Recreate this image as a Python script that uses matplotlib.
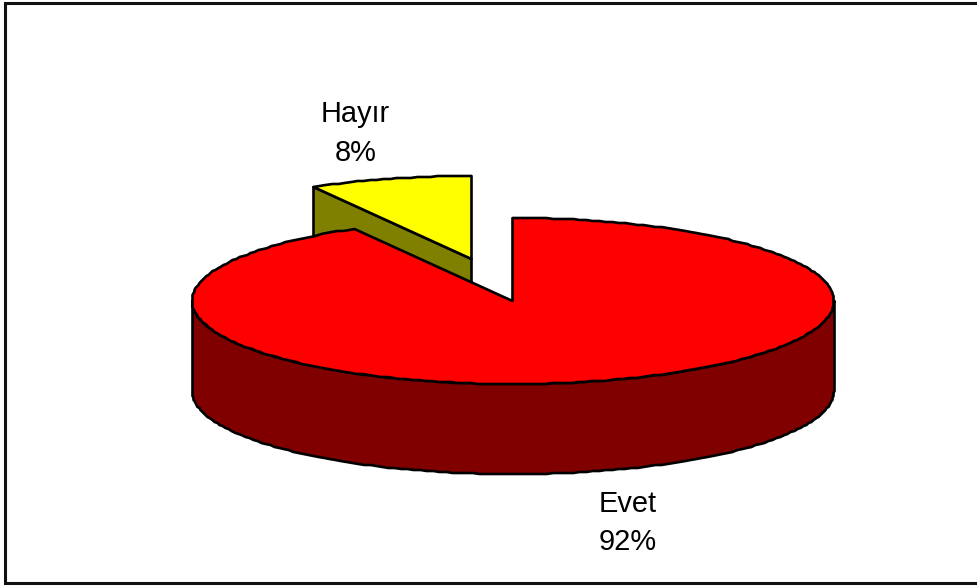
from __future__ import annotations

import matplotlib

matplotlib.use("Agg")
import matplotlib.pyplot as plt
import numpy as np
from matplotlib.patches import Polygon, Rectangle

LABELS = ["Evet", "Hayır"]
VALUES = [91.8, 8.2]
PERCENT_LABELS = ["92%", "8%"]

RED = "#FF0000"
DARK_RED = "#800000"
YELLOW = "#FFFF00"
OLIVE = "#808000"

CENTER = (512.5, 301.0)
RX, RY = 321.0, 83.0
DEPTH = 90.0
EXPLODE = (-41.0, -42.0)
LW = 1.9


def rim(center, start, stop):
    # angles are clockwise from 12 o'clock, in degrees
    # whole pixels give the slightly rough edge of the old chart
    n = max(2, int(abs(stop - start) / 1.2) + 1)
    a = np.radians(np.linspace(start, stop, n))
    x = center[0] + RX * np.sin(a)
    y = center[1] - RY * np.cos(a)
    return np.column_stack([np.round(x) + 0.5, np.round(y)])


def shifted(points, dy):
    return np.asarray(points) + np.array([0.0, dy])


def add_poly(ax, points, color, z):
    ax.add_patch(
        Polygon(points, closed=True, facecolor=color, edgecolor="black",
                lw=LW, joinstyle="round", zorder=z)
    )


def main() -> None:
    fig = plt.figure(figsize=(9.78, 5.86), dpi=100, facecolor="white")
    ax = fig.add_axes([0, 0, 1, 1])
    ax.set_xlim(0, 978)
    ax.set_ylim(586, 0)
    ax.axis("off")
    plt.rcParams["font.family"] = ["Liberation Sans", "DejaVu Sans"]

    ax.add_patch(
        Rectangle((5, 3), 985, 580, facecolor="white", edgecolor="#111111",
                  lw=2.2, zorder=0)
    )

    total = sum(VALUES)
    split = 360.0 * VALUES[0] / total

    # exploded small slice sits behind the big one
    apex = np.array([CENTER[0] + EXPLODE[0], CENTER[1] + EXPLODE[1]])
    small_rim = rim(apex, split, 360.0)
    small_rim[-1, 0] = apex[0]
    side = np.array([apex, small_rim[0], shifted([small_rim[0]], DEPTH)[0],
                     shifted([apex], DEPTH)[0]])
    add_poly(ax, side, OLIVE, 1)
    add_poly(ax, np.vstack([[apex], small_rim]), YELLOW, 2)

    # big slice: outer wall on the front half, then the top face
    front = rim(CENTER, 90.0, 270.0)
    wall = np.vstack([front, shifted(front, DEPTH)[::-1]])
    add_poly(ax, wall, DARK_RED, 3)
    top = rim(CENTER, 0.0, split)
    top[0, 0] = CENTER[0]
    add_poly(ax, np.vstack([[CENTER], top]), RED, 4)

    ax.text(355.5, 133.5, f"{LABELS[1]}\n{PERCENT_LABELS[1]}", ha="center",
            va="center", fontsize=20.9, linespacing=1.5, color="black", zorder=5)
    ax.text(628, 523, f"{LABELS[0]}\n{PERCENT_LABELS[0]}", ha="center",
            va="center", fontsize=20.9, linespacing=1.5, color="black", zorder=5)

    fig.savefig("out.png", dpi=100, facecolor="white")
    plt.close(fig)


if __name__ == "__main__":
    main()
